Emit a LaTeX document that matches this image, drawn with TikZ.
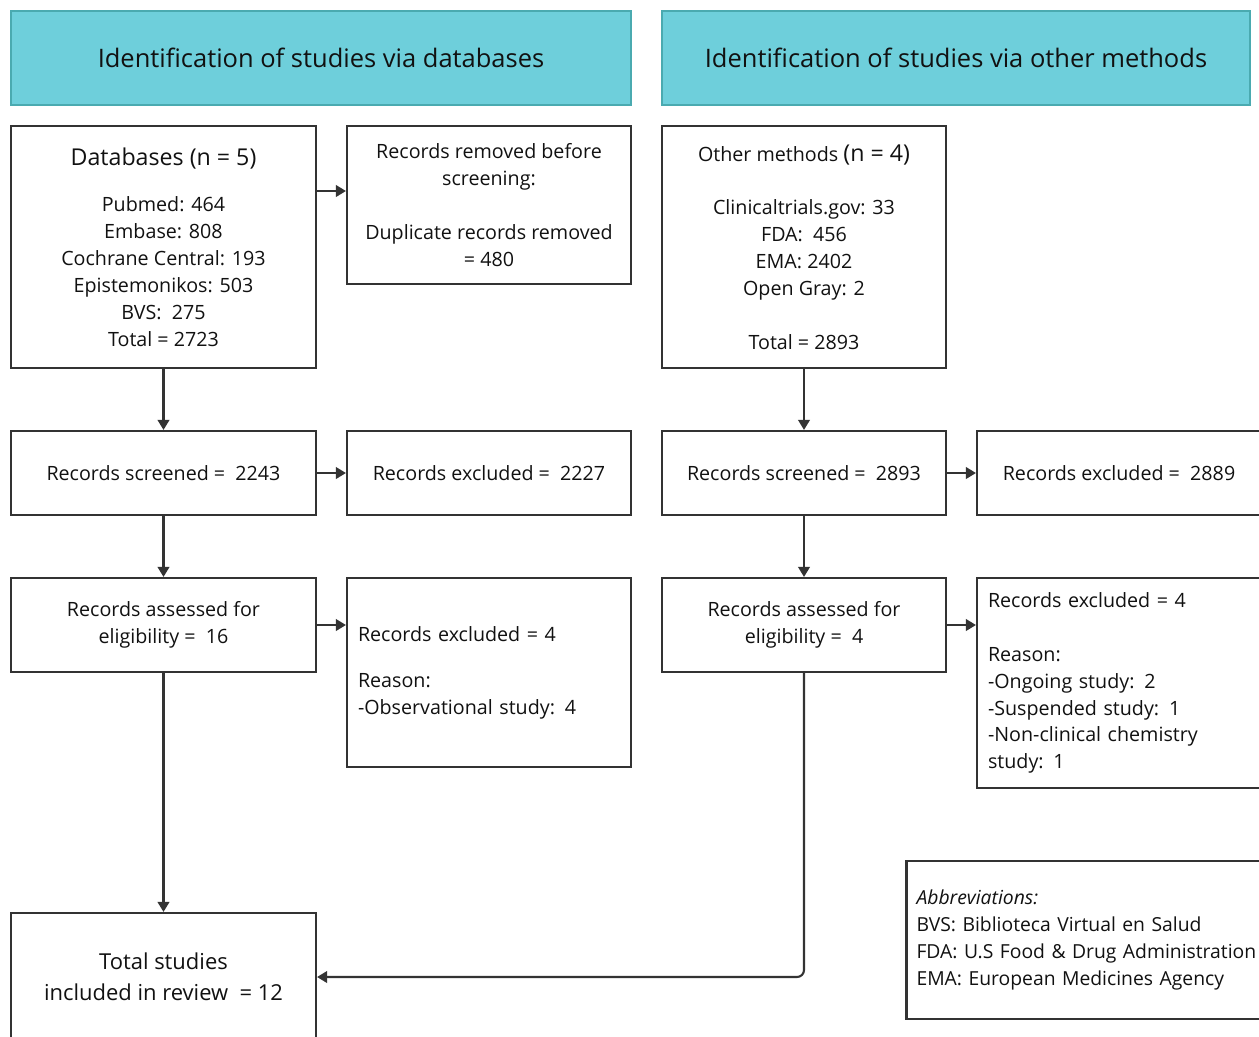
\documentclass[tikz,border=0pt]{standalone}
\usepackage{fontspec}
\setmainfont{Open Sans}
\usepackage{tikz}
\usetikzlibrary{arrows.meta,positioning,calc}
\definecolor{prteal}{HTML}{6ECFDB}
\definecolor{prtealdk}{HTML}{4AAAB0}
\definecolor{prink}{HTML}{333333}
\definecolor{prtext}{HTML}{111111}
\tikzset{
  bx/.style={draw=prink, line width=1.2pt, align=center, inner sep=2pt, text=prtext},
  hdr/.style={bx, draw=prtealdk, fill=prteal, minimum height=1.88cm, font=\fontsize{14.5}{17}\selectfont},
  cbox/.style={bx, minimum width=5.68cm},
  wbox/.style={bx, minimum width=6.1cm},
  lbox/.style={bx, align=left, text width=5.24cm, inner xsep=0.22cm},
  arr/.style={-{Triangle[length=2mm, width=2.3mm]}, line width=1.2pt, color=prink},
}
\begin{document}
\begin{tikzpicture}[font=\fontsize{11.2}{15.3}\selectfont]
  \useasboundingbox (0,0) rectangle (25.18,-20.72);
  \clip (0,0) rectangle (25.18,-20.72);
  % headers
  \node[hdr, minimum width=12.4cm] (hdra) at (6.42,-1.16) {Identification of studies via databases};
  \node[hdr, minimum width=11.76cm] (hdrb) at (19.12,-1.16) {Identification of studies via other methods};
  % identification
  \node[wbox, minimum height=4.84cm] (db) at (3.27,-4.94)
    {{\fontsize{13.2}{15}\selectfont Databases (n = 5)}\\[11pt]
     Pubmed: 464\\ Embase: 808\\ Cochrane Central: 193\\ Epistemonikos: 503\\ BVS:\ \ 275\\ Total = 2723};
  \node[cbox, minimum height=3.16cm] (rem) at (9.78,-4.1)
    {Records removed before\\ screening:\\[15.3pt] Duplicate records removed\\ = 480};
  \node[cbox, minimum height=4.84cm] (oth) at (16.08,-4.94)
    {Other methods {\fontsize{13.2}{15}\selectfont (n = 4)}\\[15pt]
     Clinicaltrials.gov: 33\\ FDA:\ \ 456\\ EMA: 2402\\ Open Gray: 2\\[15.3pt] Total = 2893};
  % screening
  \node[wbox, minimum height=1.68cm] (scra) at (3.27,-9.46) {Records screened =\ \ 2243};
  \node[cbox, minimum height=1.68cm] (exa) at (9.78,-9.46) {Records excluded =\ \ 2227};
  \node[cbox, minimum height=1.68cm] (scrb) at (16.08,-9.46) {Records screened =\ \ 2893};
  \node[cbox, minimum height=1.68cm] (exb) at (22.38,-9.46) {Records excluded =\ \ 2889};
  % eligibility
  \node[wbox, minimum height=1.88cm] (asa) at (3.27,-12.5) {Records assessed for\\ eligibility =\ \ 16};
  \node[lbox, minimum height=3.78cm] (rsa) at (9.78,-13.45)
    {Records excluded = 4\\[10.8pt] Reason:\\ -Observational study: 4};
  \node[cbox, minimum height=1.88cm] (asb) at (16.08,-12.5) {Records assessed for\\ eligibility =\ \ 4};
  \node[lbox, minimum height=4.2cm] (rsb) at (22.38,-13.66)
    {Records excluded = 4\\[15.3pt] Reason:\\ -Ongoing study: 2\\ -Suspended study: 1\\ -Non-clinical chemistry\\ study: 1};
  % included
  \node[wbox, minimum height=2.56cm, font=\fontsize{12.5}{17.5}\selectfont] (tot) at (3.27,-19.54)
    {Total studies\\ included in review\ \ = 12};
  \node[bx, align=left, text width=7.3cm, inner xsep=0.2cm, minimum height=3.16cm,
        font=\fontsize{11}{15.3}\selectfont] (abbr) at (21.98,-18.8)
    {\textit{Abbreviations:}\\ BVS: Biblioteca Virtual en Salud\\ FDA: U.S Food \& Drug Administration\\ EMA: European Medicines Agency};
  % arrows
  \draw[arr] ([yshift=1.12cm]db.east) -- ([yshift=1.12cm]db.east -| rem.west);
  \draw[arr] (db) -- (scra);
  \draw[arr] (oth) -- (scrb);
  \draw[arr] (scra) -- (exa);
  \draw[arr] (scrb) -- (exb);
  \draw[arr] (scra) -- (asa);
  \draw[arr] (scrb) -- (asb);
  \draw[arr] (asa.east) -- (asa.east -| rsa.west);
  \draw[arr] (asb.east) -- (asb.east -| rsb.west);
  \draw[arr] (asa) -- (tot);
  \draw[arr, rounded corners=4pt] (asb.south) |- (tot.east);
\end{tikzpicture}
\end{document}
